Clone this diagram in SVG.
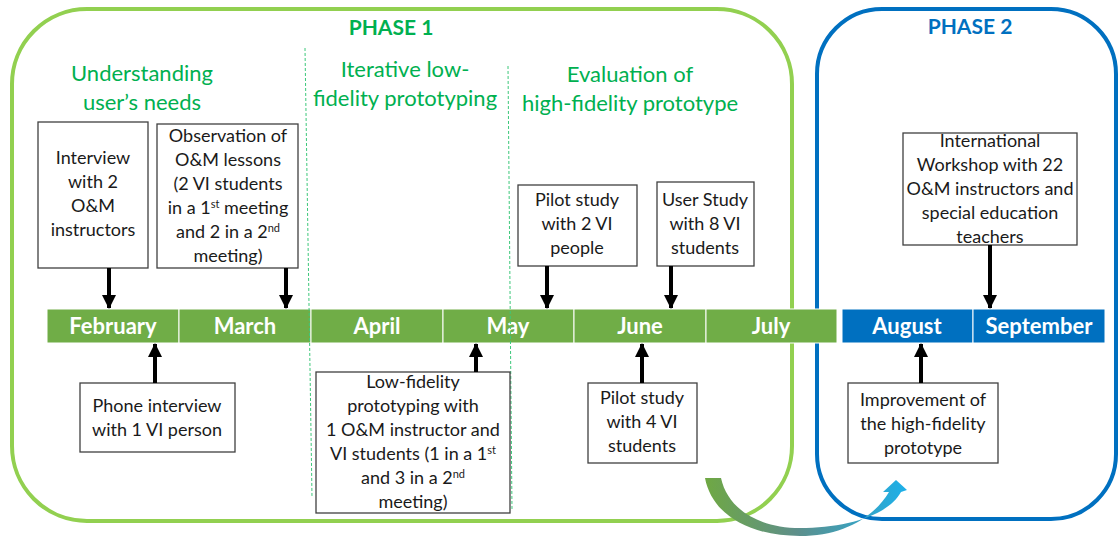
<svg xmlns="http://www.w3.org/2000/svg" width="1119" height="536" viewBox="0 0 1119 536">
<defs>
<style>
.box{fill:#fff;stroke:#404040;stroke-width:1.3}
.bt{font-family:Lato,"Liberation Sans",sans-serif;font-size:18px;fill:#1a1a1a;text-anchor:middle}
.hd{font-family:Lato,"Liberation Sans",sans-serif;font-size:22px;fill:#00B050;text-anchor:middle}
.ph{font-family:Lato,"Liberation Sans",sans-serif;font-size:21px;font-weight:bold;text-anchor:middle}
.mo{font-family:Lato,"Liberation Sans",sans-serif;font-size:22px;font-weight:bold;fill:#fff;text-anchor:middle}
.seg{stroke:#fff;stroke-width:1}
.arr{stroke:#000;stroke-width:4;fill:none;marker-end:url(#ah)}
.dash{stroke:#3CC87A;stroke-width:1;stroke-dasharray:3 2;fill:none}
</style>
<marker id="ah" markerUnits="userSpaceOnUse" markerWidth="16" markerHeight="14" refX="13" refY="7" orient="auto">
<path d="M0,0 L14,7 L0,14 Z" fill="#000"/>
</marker>
<linearGradient id="cg" x1="705" y1="0" x2="907" y2="0" gradientUnits="userSpaceOnUse">
<stop offset="0" stop-color="#6FA843"/>
<stop offset="0.45" stop-color="#5E8F8A"/>
<stop offset="1" stop-color="#1CB0EA"/>
</linearGradient>
</defs>

<g id="phase1">
<rect x="12" y="9" width="780" height="512" rx="75" ry="75" fill="none" stroke="#92D050" stroke-width="4"/>
<text class="ph" x="391" y="35" fill="#00B050">PHASE 1</text>
</g>
<g id="phase2">
<rect x="817" y="9" width="299" height="510" rx="65" ry="65" fill="none" stroke="#0070C0" stroke-width="4"/>
<text class="ph" x="970" y="34" fill="#0070C0">PHASE 2</text>
</g>

<g id="headings">
<text class="hd" x="142" y="81">Understanding</text>
<text class="hd" x="142" y="110">user’s needs</text>
<text class="hd" x="405" y="77">Iterative low-</text>
<text class="hd" x="405" y="106">fidelity prototyping</text>
<text class="hd" x="630" y="82">Evaluation of</text>
<text class="hd" x="630" y="111">high-fidelity prototype</text>
</g>

<g id="timeline">
<rect class="seg" x="47" y="309" width="132" height="34" fill="#70AD47"/>
<rect class="seg" x="179" y="309" width="132" height="34" fill="#70AD47"/>
<rect class="seg" x="311" y="309" width="132" height="34" fill="#70AD47"/>
<rect class="seg" x="443" y="309" width="131" height="34" fill="#70AD47"/>
<rect class="seg" x="574" y="309" width="132" height="34" fill="#70AD47"/>
<rect class="seg" x="706" y="309" width="131" height="34" fill="#70AD47"/>
<rect class="seg" x="842" y="309" width="131" height="34" fill="#0070C0"/>
<rect class="seg" x="973" y="309" width="132" height="34" fill="#0070C0"/>
<text class="mo" x="113" y="334">February</text>
<text class="mo" x="245" y="334">March</text>
<text class="mo" x="377" y="334">April</text>
<text class="mo" x="508" y="334">May</text>
<text class="mo" x="640" y="334">June</text>
<text class="mo" x="771" y="334">July</text>
<text class="mo" x="907" y="334">August</text>
<text class="mo" x="1039" y="334">September</text>
</g>

<g id="dividers">
<line class="dash" x1="305" y1="48" x2="312" y2="497"/>
<line class="dash" x1="508" y1="66" x2="512" y2="511"/>
</g>

<g id="n-interview">
<rect class="box" x="38" y="122" width="110" height="146"/>
<text class="bt" x="93" y="164">Interview</text>
<text class="bt" x="93" y="188">with 2</text>
<text class="bt" x="93" y="212">O&amp;M</text>
<text class="bt" x="93" y="236">instructors</text>
</g>
<g id="n-observation">
<rect class="box" x="157" y="124" width="141" height="144"/>
<text class="bt" x="228" y="142">Observation of</text>
<text class="bt" x="228" y="166">O&amp;M lessons</text>
<text class="bt" x="228" y="190">(2 VI students</text>
<text class="bt" x="228" y="214">in a 1<tspan font-size="11" dy="-6">st</tspan><tspan dy="6"> meeting</tspan></text>
<text class="bt" x="228" y="238">and 2 in a 2<tspan font-size="11" dy="-6">nd</tspan></text>
<text class="bt" x="228" y="262">meeting)</text>
</g>
<g id="n-phone">
<rect class="box" x="80" y="383" width="155" height="69"/>
<text class="bt" x="157" y="412">Phone interview</text>
<text class="bt" x="157" y="436">with 1 VI person</text>
</g>
<g id="n-lowfi">
<rect class="box" x="316" y="372" width="194" height="141"/>
<text class="bt" x="413" y="388">Low-fidelity</text>
<text class="bt" x="413" y="412">prototyping with</text>
<text class="bt" x="413" y="436">1 O&amp;M instructor and</text>
<text class="bt" x="413" y="460">VI students (1 in a 1<tspan font-size="11" dy="-6">st</tspan></text>
<text class="bt" x="413" y="484">and 3 in a 2<tspan font-size="11" dy="-6">nd</tspan></text>
<text class="bt" x="413" y="508">meeting)</text>
</g>
<g id="n-pilot2">
<rect class="box" x="518" y="185" width="119" height="81"/>
<text class="bt" x="577" y="206">Pilot study</text>
<text class="bt" x="577" y="230">with 2 VI</text>
<text class="bt" x="577" y="254">people</text>
</g>
<g id="n-user">
<rect class="box" x="657" y="182" width="97" height="84"/>
<text class="bt" x="705" y="206">User Study</text>
<text class="bt" x="705" y="230">with 8 VI</text>
<text class="bt" x="705" y="254">students</text>
</g>
<g id="n-pilot4">
<rect class="box" x="588" y="383" width="109" height="80"/>
<text class="bt" x="642" y="404">Pilot study</text>
<text class="bt" x="642" y="428">with 4 VI</text>
<text class="bt" x="642" y="452">students</text>
</g>
<g id="n-workshop">
<rect class="box" x="903" y="133" width="174" height="112"/>
<text class="bt" x="990" y="147">International</text>
<text class="bt" x="990" y="171">Workshop with 22</text>
<text class="bt" x="990" y="195">O&amp;M instructors and</text>
<text class="bt" x="990" y="219">special education</text>
<text class="bt" x="990" y="243">teachers</text>
</g>
<g id="n-improvement">
<rect class="box" x="848" y="383" width="150" height="80"/>
<text class="bt" x="923" y="406">Improvement of</text>
<text class="bt" x="923" y="430">the high-fidelity</text>
<text class="bt" x="923" y="454">prototype</text>
</g>

<g id="connectors">
<line class="arr" x1="109" y1="268" x2="109" y2="308"/>
<line class="arr" x1="286" y1="268" x2="286" y2="308"/>
<line class="arr" x1="155" y1="383" x2="155" y2="344"/>
<line class="arr" x1="476" y1="372" x2="476" y2="344"/>
<line class="arr" x1="547" y1="266" x2="547" y2="308"/>
<line class="arr" x1="671" y1="266" x2="671" y2="308"/>
<line class="arr" x1="642" y1="383" x2="642" y2="344"/>
<line class="arr" x1="990" y1="245" x2="990" y2="308"/>
<line class="arr" x1="921" y1="383" x2="921" y2="344"/>
<path id="phase-arrow" d="M705,478 C712,515 750,536 800,536 C840,536 872,520 889,492 L883,492 L896,480 L907,490 L901,492 C888,516 845,528 800,528 C760,528 728,510 721,478 Z" fill="url(#cg)"/>
</g>
</svg>
